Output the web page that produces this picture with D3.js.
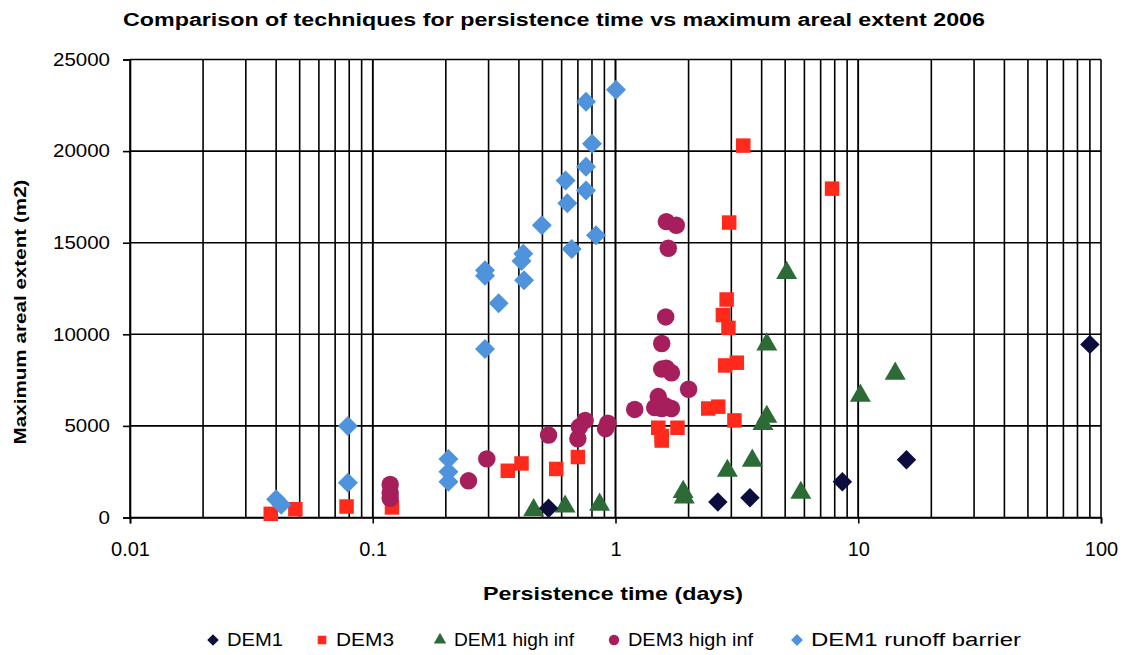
<!DOCTYPE html>
<html><head><meta charset="utf-8">
<script src="https://cdn.jsdelivr.net/npm/d3@7"></script>
<style>body{margin:0;background:#fff}svg{display:block}text{font-family:"Liberation Sans",Arial,sans-serif}</style>
</head><body><svg id="c" width="1124" height="655"></svg>
<script>
const seriesNames = ["DEM1","DEM3","DEM1 high inf","DEM3 high inf","DEM1 runoff barrier"];
const dem1X = [0.53,2.64,3.58,8.6,15.8,90];
const dem1Y = [500,850,1080,1950,3150,9450];
const dem3X = [0.038,0.048,0.078,0.12,0.36,0.41,0.57,0.70,1.5,1.55,1.55,1.8,2.41,2.65,3.09,2.83,3.16,2.92,2.77,2.87,2.94,3.36,7.8];
const dem3Y = [200,450,600,550,2550,2950,2650,3300,4900,4450,4200,4900,5950,6050,5300,8300,8450,10350,11050,11900,16100,20300,17950];
const dem1hiX = [0.46,0.62,0.86,1.9,1.92,2.89,3.66,4.05,4.2,4.2,5.07,5.8,10.2,14.2];
const dem1hiY = [400,600,700,1400,1100,2550,3100,5100,5500,9450,13350,1350,6650,7850];
const dem3hiX = [0.118,0.118,0.118,0.248,0.295,0.53,0.70,0.71,0.75,0.93,0.91,1.2,1.5,1.45,1.55,1.6,1.7,1.62,1.55,1.7,1.55,1.61,1.65,1.62,1.78,2.0];
const dem3hiY = [1800,1350,1050,2000,3200,4500,4300,4950,5300,5150,4850,5900,6600,6000,5950,6100,5950,8150,8100,7900,9500,10950,14700,16150,15950,7000];
const barrierX = [0.04,0.042,0.079,0.079,0.205,0.205,0.205,0.29,0.29,0.29,0.33,0.417,0.41,0.42,0.497,0.623,0.633,0.66,0.756,0.80,0.756,0.756,0.831,1.005];
const barrierY = [1000,700,5000,1900,3200,2500,1950,13500,13200,9200,11700,14400,14000,12950,15950,18400,17150,14650,22700,20400,19150,17850,15400,23350];
const xTicks = [0.01,0.1,1,10,100];
const xTickLabels = ["0.01","0.1","1","10","100"];
const yTicks = [0,5000,10000,15000,20000,25000];
const colors = ["#0c0c3e","#ff2a1c","#2c6a36","#a61f5c","#4f93dc"];

const svg = d3.select("#c");
const L=130,R=1101,T=59.5,B=517.5;
const x = d3.scaleLog().domain([0.01,100]).range([L,R]);
const y = d3.scaleLinear().domain([0,25000]).range([B,T]);

const vlines = [];
for (let d=-2; d<2; d++) for (let k=1;k<=10;k++) vlines.push(k*Math.pow(10,d));
const grid = svg.append("g");
grid.selectAll("line.v").data(vlines).join("line")
  .attr("x1",d=>x(d)).attr("x2",d=>x(d)).attr("y1",T).attr("y2",B)
  .attr("stroke","#000").attr("stroke-width",1.6);
grid.selectAll("line.h").data(yTicks).join("line")
  .attr("x1",L).attr("x2",R).attr("y1",d=>y(d)).attr("y2",d=>y(d))
  .attr("stroke","#000").attr("stroke-width",1.6);

const xa = svg.append("g").attr("transform",`translate(0,${B})`)
  .call(d3.axisBottom(x).tickValues(xTicks).tickFormat((d,i)=>xTickLabels[i]).tickSize(6).tickPadding(18));
const ya = svg.append("g").attr("transform",`translate(${L},0)`)
  .call(d3.axisLeft(y).tickValues(yTicks).tickFormat(d3.format("d")).tickSize(7).tickPadding(13));
[xa,ya].forEach(a=>{a.select(".domain").attr("stroke","#000").attr("stroke-width",1.6);
  a.selectAll(".tick line").attr("stroke","#000").attr("stroke-width",1.6);
  a.selectAll("text").attr("fill","#000").attr("font-family","'Liberation Sans',Arial,sans-serif");});
xa.selectAll("text").attr("font-size",20);
ya.selectAll("text").attr("font-size",18).attr("textLength",d=>String(d).length*11.4).attr("lengthAdjust","spacingAndGlyphs");

const sym = [
  {t:d3.symbolSquare,s:190,rot:45},
  {t:d3.symbolSquare,s:210,rot:0},
  {t:d3.symbolTriangle,s:190,rot:0},
  {t:d3.symbolCircle,s:240,rot:0},
  {t:d3.symbolSquare,s:200,rot:45}
];
const data = [[dem1X,dem1Y],[dem3X,dem3Y],[dem1hiX,dem1hiY],[dem3hiX,dem3hiY],[barrierX,barrierY]];
const drawOrder=[1,2,3,4,0];
drawOrder.forEach(i=>{
  const pts = data[i][0].map((v,j)=>[v,data[i][1][j]]);
  svg.append("g").selectAll("path").data(pts).join("path")
    .attr("d",d3.symbol().type(sym[i].t).size(sym[i].s))
    .attr("transform",d=>`translate(${x(d[0])},${y(d[1])}) rotate(${sym[i].rot})`)
    .attr("fill",colors[i]);
});

svg.append("text").attr("x",554).attr("y",26).attr("text-anchor","middle")
  .attr("font-size",18).attr("font-weight","bold").attr("textLength",862).attr("lengthAdjust","spacingAndGlyphs")
  .text("Comparison of techniques for persistence time vs maximum areal extent 2006");
svg.append("text").attr("x",613).attr("y",600).attr("text-anchor","middle")
  .attr("font-size",19).attr("font-weight","bold").attr("textLength",260).attr("lengthAdjust","spacingAndGlyphs")
  .text("Persistence time (days)");
svg.append("text").attr("transform","translate(26,312) rotate(-90)").attr("text-anchor","middle")
  .attr("font-size",17).attr("font-weight","bold").attr("textLength",265).attr("lengthAdjust","spacingAndGlyphs")
  .text("Maximum areal extent (m2)");

const legX = [213,322,440,614,797];
const legTextW = [56,58,120,125,210];
const lg = svg.append("g");
seriesNames.forEach((n,i)=>{
  lg.append("path").attr("d",d3.symbol().type(sym[i].t).size(sym[i].s*0.35))
    .attr("transform",`translate(${legX[i]},640) rotate(${sym[i].rot})`).attr("fill",colors[i]);
  lg.append("text").attr("x",legX[i]+14).attr("y",646).attr("font-size",18)
    .attr("textLength",legTextW[i]).attr("lengthAdjust","spacingAndGlyphs").text(n);
});
</script></body></html>
